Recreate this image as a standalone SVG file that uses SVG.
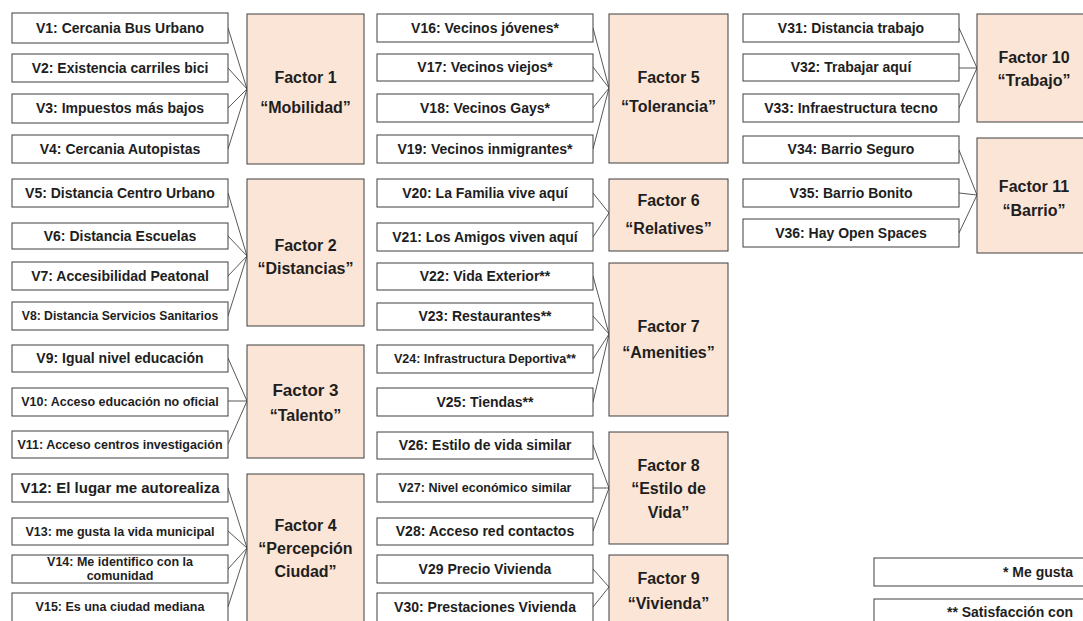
<svg xmlns="http://www.w3.org/2000/svg" width="1083" height="621" viewBox="0 0 1083 621">
<style>
.v{fill:#ffffff;stroke:#3f3f3f;stroke-width:1}
.f{fill:#fbe5d6;stroke:#3f3f3f;stroke-width:1}
text{font-family:"Liberation Sans",Arial,sans-serif;font-weight:bold;fill:#1e1e1e;text-anchor:middle}
.t{font-size:14px}
.s{font-size:12.5px}
.x{font-size:12.2px}
.h{font-size:16px}
#conn line{stroke:#595959;stroke-width:1}
</style>
<rect width="1083" height="621" fill="#ffffff"/>
<g id="conn">
<line x1="228" y1="28" x2="247" y2="89"/><line x1="228" y1="68" x2="247" y2="89"/><line x1="228" y1="108" x2="247" y2="89"/><line x1="228" y1="149" x2="247" y2="89"/>
<line x1="228" y1="193" x2="247" y2="256"/><line x1="228" y1="236" x2="247" y2="256"/><line x1="228" y1="276" x2="247" y2="256"/><line x1="228" y1="316" x2="247" y2="256"/>
<line x1="228" y1="358" x2="247" y2="401"/><line x1="228" y1="401" x2="247" y2="401"/><line x1="228" y1="444" x2="247" y2="401"/>
<line x1="228" y1="488" x2="247" y2="548"/><line x1="228" y1="531" x2="247" y2="548"/><line x1="228" y1="569" x2="247" y2="548"/><line x1="228" y1="607" x2="247" y2="548"/>
<line x1="593" y1="28" x2="609" y2="88"/><line x1="593" y1="67" x2="609" y2="88"/><line x1="593" y1="108" x2="609" y2="88"/><line x1="593" y1="149" x2="609" y2="88"/>
<line x1="593" y1="193" x2="609" y2="213"/><line x1="593" y1="237" x2="609" y2="213"/>
<line x1="593" y1="276" x2="609" y2="334"/><line x1="593" y1="316" x2="609" y2="334"/><line x1="593" y1="359" x2="609" y2="334"/><line x1="593" y1="402" x2="609" y2="334"/>
<line x1="593" y1="445" x2="609" y2="488"/><line x1="593" y1="488" x2="609" y2="488"/><line x1="593" y1="531" x2="609" y2="488"/>
<line x1="593" y1="569" x2="609" y2="587"/><line x1="593" y1="607" x2="609" y2="587"/>
<line x1="959" y1="28" x2="977" y2="68"/><line x1="959" y1="68" x2="977" y2="68"/><line x1="959" y1="108" x2="977" y2="68"/>
<line x1="959" y1="150" x2="977" y2="195"/><line x1="959" y1="193" x2="977" y2="195"/><line x1="959" y1="233" x2="977" y2="195"/>
</g>
<g id="V1"><rect class="v" x="12" y="13" width="216" height="30"/><text class="t" x="120" y="33">V1: Cercania Bus Urbano</text></g>
<g id="V2"><rect class="v" x="12" y="54" width="216" height="28"/><text class="t" x="120" y="73">V2: Existencia carriles bici</text></g>
<g id="V3"><rect class="v" x="12" y="94" width="216" height="29"/><text class="t" x="120" y="113">V3: Impuestos más bajos</text></g>
<g id="V4"><rect class="v" x="12" y="135" width="216" height="28"/><text class="t" x="120" y="154">V4: Cercania Autopistas</text></g>
<g id="V5"><rect class="v" x="12" y="179" width="216" height="28"/><text class="t" x="120" y="198">V5: Distancia Centro Urbano</text></g>
<g id="V6"><rect class="v" x="12" y="223" width="216" height="26"/><text class="t" x="120" y="241">V6: Distancia Escuelas</text></g>
<g id="V7"><rect class="v" x="12" y="262" width="216" height="28"/><text class="t" x="120" y="281">V7: Accesibilidad Peatonal</text></g>
<g id="V8"><rect class="v" x="12" y="302" width="216" height="28"/><text class="x" x="120" y="320">V8: Distancia Servicios Sanitarios</text></g>
<g id="V9"><rect class="v" x="12" y="345" width="216" height="27"/><text class="t" x="120" y="363">V9: Igual nivel educación</text></g>
<g id="V10"><rect class="v" x="12" y="388" width="216" height="28"/><text class="s" x="120" y="406">V10: Acceso educación no oficial</text></g>
<g id="V11"><rect class="v" x="12" y="431" width="216" height="27"/><text class="s" x="120" y="449">V11: Acceso centros investigación</text></g>
<g id="V12"><rect class="v" x="12" y="474" width="216" height="28"/><text class="t" style="font-size:15px" x="120" y="493">V12: El lugar me autorealiza</text></g>
<g id="V13"><rect class="v" x="12" y="518" width="216" height="27"/><text class="s" x="120" y="536">V13: me gusta la vida municipal</text></g>
<g id="V14"><rect class="v" x="12" y="555" width="216" height="28"/><text class="s" x="120" y="566">V14: Me identifico con la</text><text class="s" x="120" y="580">comunidad</text></g>
<g id="V15"><rect class="v" x="12" y="593" width="216" height="30"/><text class="s" x="120" y="611">V15: Es una ciudad mediana</text></g>
<g id="F1"><rect class="f" x="247" y="14" width="117" height="150"/><text class="h" x="305.5" y="83">Factor 1</text><text class="h" x="305.5" y="113">“Mobilidad”</text></g>
<g id="F2"><rect class="f" x="247" y="179" width="117" height="147"/><text class="h" x="305.5" y="251">Factor 2</text><text class="h" x="305.5" y="274">“Distancias”</text></g>
<g id="F3"><rect class="f" x="247" y="345" width="117" height="113"/><text class="h" style="font-size:17px" x="305.5" y="396">Factor 3</text><text class="h" x="305.5" y="421">“Talento”</text></g>
<g id="F4"><rect class="f" x="247" y="474" width="117" height="151"/><text class="h" x="305.5" y="531">Factor 4</text><text class="h" x="305.5" y="554">“Percepción</text><text class="h" x="305.5" y="577">Ciudad”</text></g>
<g id="V16"><rect class="v" x="377" y="14" width="216" height="28"/><text class="t" x="485" y="33">V16: Vecinos jóvenes*</text></g>
<g id="V17"><rect class="v" x="377" y="54" width="216" height="27"/><text class="t" x="485" y="72">V17: Vecinos viejos*</text></g>
<g id="V18"><rect class="v" x="377" y="94" width="216" height="28"/><text class="t" x="485" y="113">V18: Vecinos Gays*</text></g>
<g id="V19"><rect class="v" x="377" y="135" width="216" height="28"/><text class="t" x="485" y="154">V19: Vecinos inmigrantes*</text></g>
<g id="V20"><rect class="v" x="377" y="179" width="216" height="28"/><text class="t" x="485" y="198">V20: La Familia vive aquí</text></g>
<g id="V21"><rect class="v" x="377" y="223" width="216" height="28"/><text class="t" x="485" y="242">V21: Los Amigos viven aquí</text></g>
<g id="V22"><rect class="v" x="377" y="263" width="216" height="27"/><text class="t" x="485" y="281">V22: Vida Exterior**</text></g>
<g id="V23"><rect class="v" x="377" y="303" width="216" height="27"/><text class="t" x="485" y="321">V23: Restaurantes**</text></g>
<g id="V24"><rect class="v" x="377" y="345" width="216" height="28"/><text class="s" x="485" y="363">V24: Infrastructura Deportiva**</text></g>
<g id="V25"><rect class="v" x="377" y="388" width="216" height="28"/><text class="t" x="485" y="407">V25: Tiendas**</text></g>
<g id="V26"><rect class="v" x="377" y="432" width="216" height="27"/><text class="t" x="485" y="450">V26: Estilo de vida similar</text></g>
<g id="V27"><rect class="v" x="377" y="474" width="216" height="28"/><text class="s" x="485" y="492">V27: Nivel económico similar</text></g>
<g id="V28"><rect class="v" x="377" y="518" width="216" height="27"/><text class="t" x="485" y="536">V28: Acceso red contactos</text></g>
<g id="V29"><rect class="v" x="377" y="555" width="216" height="28"/><text class="t" x="485" y="574">V29 Precio Vivienda</text></g>
<g id="V30"><rect class="v" x="377" y="593" width="216" height="30"/><text class="t" x="485" y="612">V30: Prestaciones Vivienda</text></g>
<g id="F5"><rect class="f" x="609" y="14" width="119" height="149"/><text class="h" x="668.5" y="83">Factor 5</text><text class="h" x="668.5" y="112">“Tolerancia”</text></g>
<g id="F6"><rect class="f" x="609" y="179" width="119" height="72"/><text class="h" x="668.5" y="206">Factor 6</text><text class="h" x="668.5" y="234">“Relatives”</text></g>
<g id="F7"><rect class="f" x="609" y="263" width="119" height="153"/><text class="h" x="668.5" y="332">Factor 7</text><text class="h" x="668.5" y="358">“Amenities”</text></g>
<g id="F8"><rect class="f" x="609" y="432" width="119" height="112"/><text class="h" x="668.5" y="471">Factor 8</text><text class="h" x="668.5" y="494">“Estilo de</text><text class="h" x="668.5" y="518">Vida”</text></g>
<g id="F9"><rect class="f" x="609" y="555" width="119" height="70"/><text class="h" x="668.5" y="584">Factor 9</text><text class="h" x="668.5" y="609">“Vivienda”</text></g>
<g id="V31"><rect class="v" x="743" y="14" width="216" height="28"/><text class="t" x="851" y="33">V31: Distancia trabajo</text></g>
<g id="V32"><rect class="v" x="743" y="54" width="216" height="27"/><text class="t" x="851" y="72">V32: Trabajar aquí</text></g>
<g id="V33"><rect class="v" x="743" y="94" width="216" height="28"/><text class="t" x="851" y="113">V33: Infraestructura tecno</text></g>
<g id="V34"><rect class="v" x="743" y="136" width="216" height="27"/><text class="t" x="851" y="154">V34: Barrio Seguro</text></g>
<g id="V35"><rect class="v" x="743" y="179" width="216" height="28"/><text class="t" x="851" y="198">V35: Barrio Bonito</text></g>
<g id="V36"><rect class="v" x="743" y="219" width="216" height="28"/><text class="t" x="851" y="238">V36: Hay Open Spaces</text></g>
<g id="F10"><rect class="f" x="977" y="14" width="117" height="108"/><text class="h" x="1034" y="63">Factor 10</text><text class="h" x="1034" y="86">“Trabajo”</text></g>
<g id="F11"><rect class="f" x="977" y="138" width="117" height="115"/><text class="h" x="1034" y="192">Factor 11</text><text class="h" x="1034" y="216">“Barrio”</text></g>
<g id="legend1"><rect class="v" x="874" y="558" width="220" height="28"/><text class="t" style="text-anchor:end" x="1073" y="577">* Me gusta</text></g>
<g id="legend2"><rect class="v" x="874" y="599" width="220" height="30"/><text class="t" style="text-anchor:end" x="1073" y="617">** Satisfacción con</text></g>
</svg>
